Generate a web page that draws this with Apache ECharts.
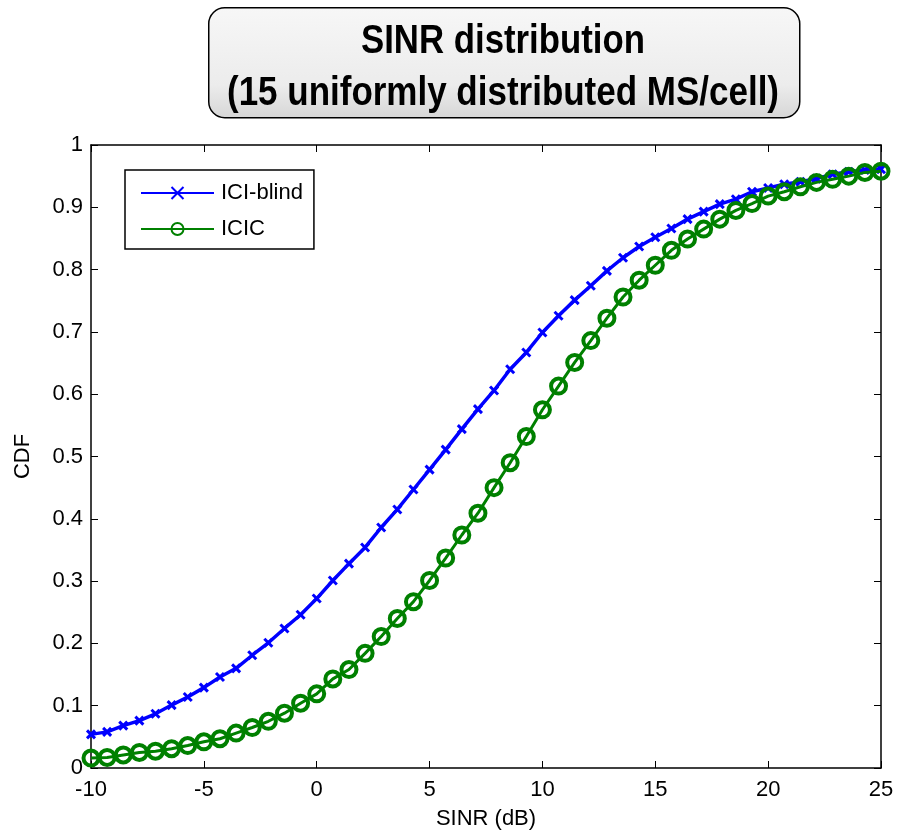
<!DOCTYPE html>
<html>
<head>
<meta charset="utf-8">
<script src="https://cdn.jsdelivr.net/npm/echarts@6/dist/echarts.min.js"></script>
<style>html,body{margin:0;padding:0;background:#fff}#c{width:897px;height:832px}</style>
</head>
<body>
<div id="c"></div>
<script>
const titleLines = ['SINR distribution', '(15 uniformly distributed MS/cell)'];
const xLabel = 'SINR (dB)';
const yLabel = 'CDF';
const seriesNames = ['ICI-blind', 'ICIC'];
const sinr = [-10, -9.286, -8.571, -7.857, -7.143, -6.429, -5.714, -5, -4.286, -3.571,
  -2.857, -2.143, -1.429, -0.714, 0, 0.714, 1.429, 2.143, 2.857, 3.571,
  4.286, 5, 5.714, 6.429, 7.143, 7.857, 8.571, 9.286, 10, 10.714,
  11.429, 12.143, 12.857, 13.571, 14.286, 15, 15.714, 16.429, 17.143, 17.857,
  18.571, 19.286, 20, 20.714, 21.429, 22.143, 22.857, 23.571, 24.286, 25];
const iciBlind = [0.054, 0.058, 0.068, 0.076, 0.087, 0.101, 0.114, 0.129, 0.146, 0.160,
  0.181, 0.201, 0.224, 0.246, 0.272, 0.301, 0.328, 0.354, 0.386, 0.415,
  0.447, 0.479, 0.511, 0.544, 0.576, 0.606, 0.640, 0.667, 0.699, 0.726,
  0.751, 0.774, 0.798, 0.819, 0.837, 0.852, 0.866, 0.881, 0.893, 0.905,
  0.913, 0.925, 0.931, 0.937, 0.941, 0.946, 0.953, 0.957, 0.960, 0.961];
const icic = [0.016, 0.017, 0.021, 0.025, 0.027, 0.031, 0.036, 0.042, 0.047, 0.056,
  0.065, 0.075, 0.088, 0.104, 0.119, 0.143, 0.158, 0.184, 0.211, 0.240,
  0.267, 0.301, 0.337, 0.374, 0.409, 0.450, 0.490, 0.532, 0.575, 0.613,
  0.651, 0.686, 0.722, 0.756, 0.783, 0.807, 0.831, 0.849, 0.865, 0.881,
  0.895, 0.906, 0.918, 0.925, 0.933, 0.940, 0.945, 0.950, 0.956, 0.958];
const xTicks = [-10, -5, 0, 5, 10, 15, 20, 25];
const yTicks = [0, 0.1, 0.2, 0.3, 0.4, 0.5, 0.6, 0.7, 0.8, 0.9, 1];

const FONT = '"Liberation Sans", Arial, sans-serif';
const TITLE_FONT = 'bold 40px "Liberation Sans", Arial, sans-serif';
const titleWidths = [284, 552];   // target rendered widths (condensed look)
const titleY = [42, 94];

function pairs(xs, ys) { return xs.map((x, i) => [x, ys[i]]); }

const measureCtx = document.createElement('canvas').getContext('2d');
measureCtx.font = TITLE_FONT;
const titleGraphics = titleLines.map((t, i) => {
  const w = measureCtx.measureText(t).width || titleWidths[i];
  return {
    type: 'text', z: 10, x: 503, y: titleY[i],
    scaleX: titleWidths[i] / w, scaleY: 1,
    style: { text: t, font: TITLE_FONT, fill: '#000', textAlign: 'center', textVerticalAlign: 'middle', verticalAlign: 'middle' }
  };
});

const chart = echarts.init(document.getElementById('c'));
const axisLineStyle = { color: '#000', width: 1.5 };
const labelStyle = { color: '#000', fontSize: 22, fontFamily: FONT };
const fmtY = v => (v === 0 ? '0' : v === 1 ? '1' : v.toFixed(1));
const tick = { show: true, inside: true, length: 7, lineStyle: { color: '#000', width: 1 } };

chart.setOption({
  animation: false,
  backgroundColor: '#fff',
  graphic: [{
    type: 'rect', z: 0, left: 208, top: 7,
    shape: { width: 591, height: 110, r: 16 },
    style: {
      fill: new echarts.graphic.LinearGradient(0, 0, 0, 1, [
        { offset: 0, color: '#f7f7f7' }, { offset: 0.7, color: '#ececec' }, { offset: 1, color: '#d6d6d6' }]),
      stroke: '#000', lineWidth: 1.5
    }
  }].concat(titleGraphics),
  legend: {
    orient: 'vertical', left: 125, top: 170, z: 10,
    padding: [12, 11, 9, 15],
    itemGap: 14,
    itemWidth: 73, itemHeight: 15,
    backgroundColor: '#fff', borderColor: '#000', borderWidth: 1.5,
    textStyle: { color: '#000', fontSize: 22, fontFamily: FONT, padding: [0, 0, 0, 2] },
    data: seriesNames
  },
  grid: { left: 91, right: 16, top: 145, bottom: 64, containLabel: false, outerBoundsMode: 'none' },
  xAxis: [{
    type: 'value', min: -10, max: 25, interval: 5, position: 'bottom',
    name: xLabel, nameLocation: 'middle', nameGap: 40,
    nameTextStyle: { color: '#000', fontSize: 22, fontFamily: FONT },
    axisLine: { onZero: false, lineStyle: axisLineStyle },
    axisTick: tick,
    axisLabel: Object.assign({ margin: 11 }, labelStyle),
    splitLine: { show: false }
  }, {
    type: 'value', min: -10, max: 25, interval: 5, position: 'top',
    axisLine: { onZero: false, lineStyle: axisLineStyle },
    axisTick: tick,
    axisLabel: { show: false }, splitLine: { show: false }
  }],
  yAxis: [{
    type: 'value', min: 0, max: 1, interval: 0.1, position: 'left',
    name: yLabel, nameLocation: 'middle', nameGap: 57, nameRotate: 90,
    nameTextStyle: { color: '#000', fontSize: 22, fontFamily: FONT },
    axisLine: { show: true, onZero: false, lineStyle: axisLineStyle },
    axisTick: tick,
    axisLabel: Object.assign({ margin: 8, formatter: fmtY }, labelStyle),
    splitLine: { show: false }
  }, {
    type: 'value', min: 0, max: 1, interval: 0.1, position: 'right',
    axisLine: { show: true, onZero: false, lineStyle: axisLineStyle },
    axisTick: tick,
    axisLabel: { show: false }, splitLine: { show: false }
  }],
  series: [{
    name: seriesNames[0], type: 'line', xAxisIndex: 0, yAxisIndex: 0,
    data: pairs(sinr, iciBlind),
    symbol: 'path://M0,0L10,10M10,0L0,10', symbolSize: 8,
    itemStyle: { color: '#0000ff', borderColor: '#0000ff', borderWidth: 3 },
    lineStyle: { color: '#0000ff', width: 3.5 },
    z: 3
  }, {
    name: seriesNames[1], type: 'line', xAxisIndex: 0, yAxisIndex: 0,
    data: pairs(sinr, icic),
    symbol: 'circle', symbolSize: 15,
    itemStyle: { color: 'rgba(0,0,0,0)', borderColor: '#008000', borderWidth: 4 },
    lineStyle: { color: '#008000', width: 3 },
    z: 4
  }]
});
</script>
</body>
</html>
